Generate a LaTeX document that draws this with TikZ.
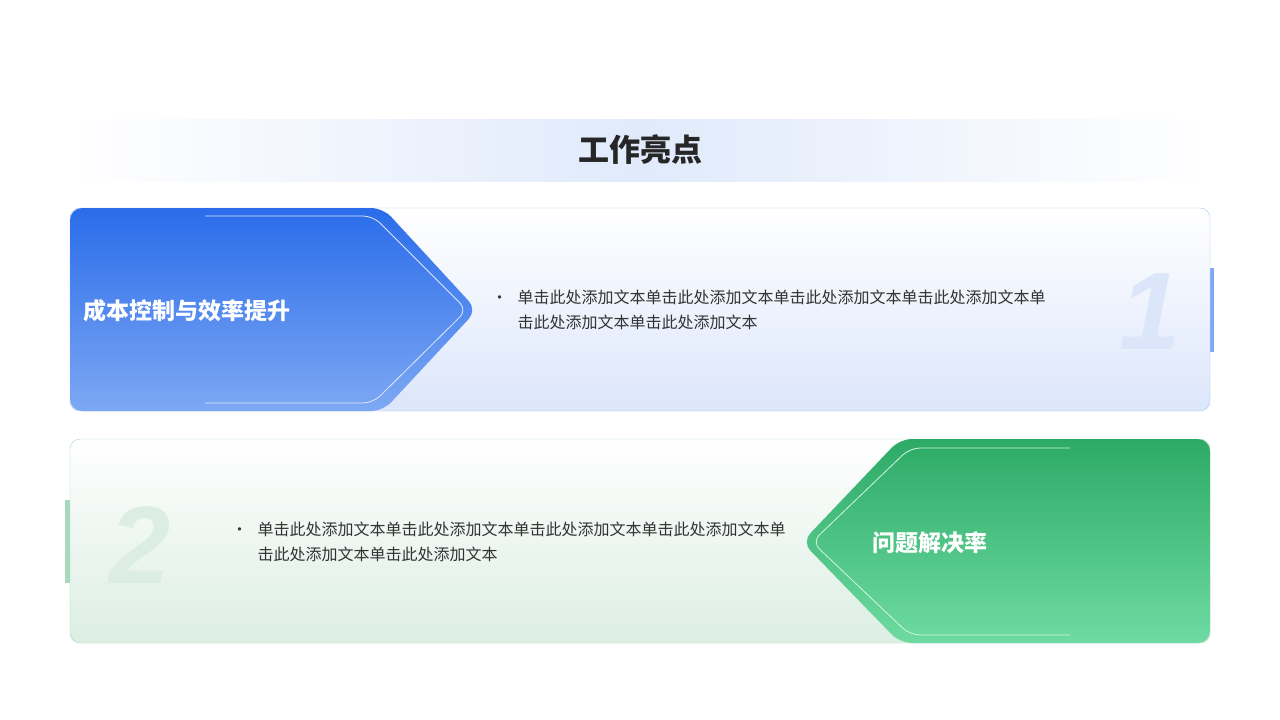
\documentclass[tikz,border=0pt]{standalone}
\usepackage{fontspec}
\setmainfont{Noto Sans CJK SC}
\newfontfamily\numfont{Liberation Sans}
\definecolor{btop}{HTML}{2A6CEA}
\definecolor{bbot}{HTML}{7DA8F3}
\definecolor{bcard}{HTML}{DCE6FB}
\definecolor{bline}{HTML}{AFC6F2}
\definecolor{gtop}{HTML}{2DAA66}
\definecolor{gbot}{HTML}{6EDBA2}
\definecolor{gcard}{HTML}{DCEEE3}
\definecolor{gline}{HTML}{A8D8BE}
\definecolor{band}{HTML}{E0EAFB}
\begin{document}
\begin{tikzpicture}[x=1pt,y=-1pt]
\tikzset{body/.style={font=\fontsize{16}{25}\selectfont,text=black!80,align=left,anchor=north west},
 head/.style={font=\fontsize{23}{26}\selectfont\bfseries,text=white}}
\useasboundingbox (0,0) rectangle (1280,720);
\fill[white] (0,0) rectangle (1280,720);
% header band
\shade[left color=white,right color=white,middle color=band] (70,119) rectangle (1210,181);
\node[font=\fontsize{31}{34}\selectfont\bfseries,text=black!85] (title) at (640,150) {工作亮点};
% card 1
\fill[bbot] (1208,268) rectangle (1214,352);
\shade[rounded corners=10,top color=white,bottom color=bcard,draw=bline] (70,208) rectangle (1210,411);
\shade[rounded corners=12,top color=btop,bottom color=bbot] (70,208) -- (383,208) -- (477,310) -- (383,411) -- (70,411) -- cycle;
\draw[white!75!bbot,line width=0.8,rounded corners=10] (205,216) -- (373,216) -- (467,310) -- (373,403) -- (205,403);
\node[head,anchor=west] (h1) at (80,311) {成本控制与效率提升};
\node[body] (t1) at (488,286) {\textbullet\hspace{10pt}单击此处添加文本单击此处添加文本单击此处添加文本单击此处添加文本单\\\phantom{\textbullet}\hspace{10pt}击此处添加文本单击此处添加文本};
\node[font=\numfont\fontsize{110}{110}\selectfont\bfseries\itshape,text=bcard] (n1) at (1150,312) {1};
% card 2
\fill[gline] (65,500) rectangle (71,583);
\shade[rounded corners=10,top color=white,bottom color=gcard,draw=gline] (70,439) rectangle (1210,643);
\shade[rounded corners=12,top color=gtop,bottom color=gbot] (1210,439) -- (900,439) -- (802,542) -- (900,643) -- (1210,643) -- cycle;
\draw[white!70!gbot,line width=0.8,rounded corners=10] (1070,448) -- (910,448) -- (812,542) -- (910,635) -- (1070,635);
\node[head,anchor=west] (h2) at (869,543) {问题解决率};
\node[body] (t2) at (228,518) {\textbullet\hspace{10pt}单击此处添加文本单击此处添加文本单击此处添加文本单击此处添加文本单\\\phantom{\textbullet}\hspace{10pt}击此处添加文本单击此处添加文本};
\node[font=\numfont\fontsize{110}{110}\selectfont\bfseries\itshape,text=gcard] (n2) at (140,545) {2};
\end{tikzpicture}
\end{document}
